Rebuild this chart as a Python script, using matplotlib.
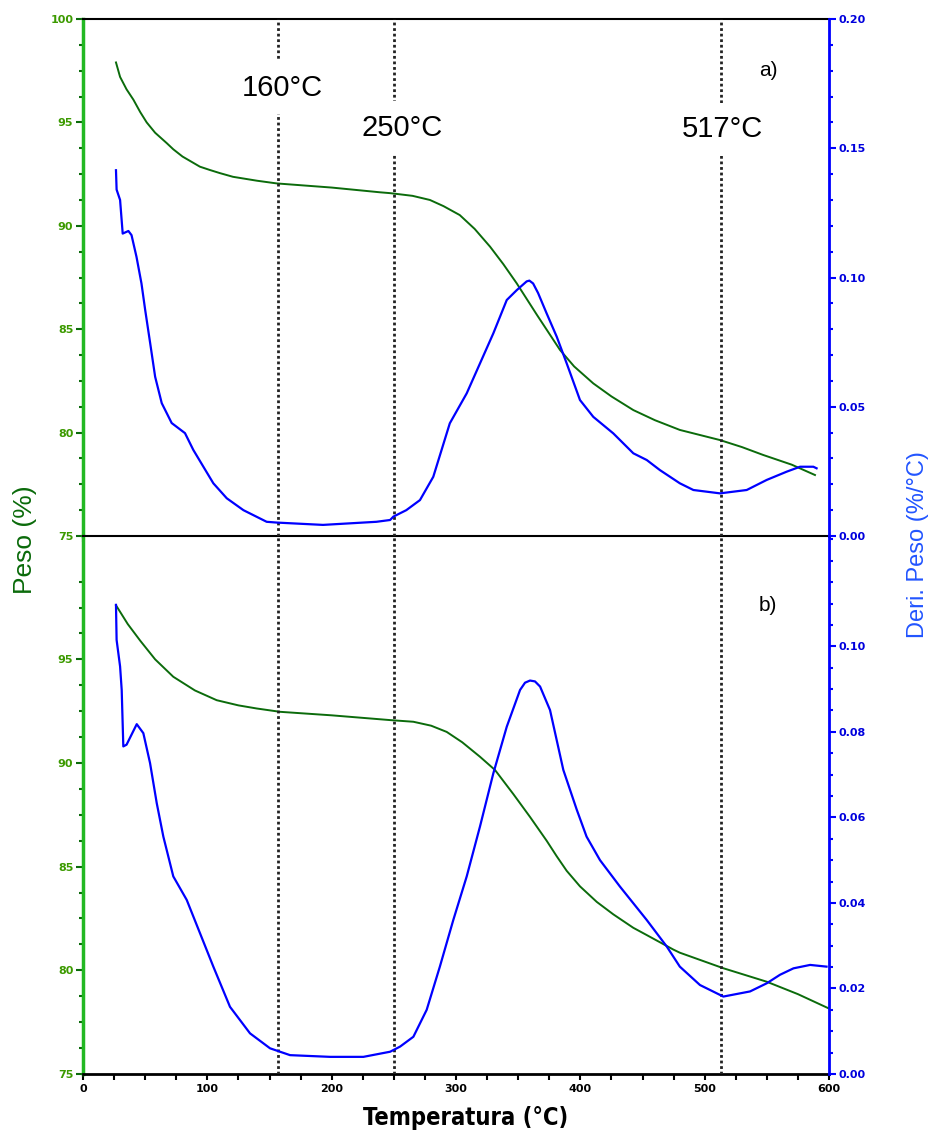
import matplotlib.pyplot as plt
from matplotlib.ticker import MultipleLocator, FixedLocator, FormatStrFormatter

# a) TG curve (Peso %) and DTG curve (Deri. Peso %/°C)
temp_tg_a = [26.5, 29.8, 35, 40.5, 46, 51.2, 58, 67.3, 72.6, 80, 94, 102, 110, 120.6, 140,
             155.8, 200, 239, 247, 265, 279, 290, 303, 315, 327.4, 338, 348.8, 365, 383.6,
             395, 410.4, 425, 442.6, 460, 480, 512.3, 530, 547, 570, 588.7]
peso_a = [97.9, 97.2, 96.6, 96.1, 95.5, 95.0, 94.5, 94.0, 93.7, 93.35, 92.86, 92.7, 92.55,
          92.37, 92.18, 92.05, 91.85, 91.62, 91.58, 91.45, 91.25, 90.95, 90.52, 89.85, 88.99,
          88.15, 87.22, 85.7, 84.0, 83.2, 82.38, 81.75, 81.09, 80.6, 80.13, 79.64, 79.3,
          78.92, 78.45, 77.95]
temp_dtg_a = [26.5, 27, 29.8, 31.9, 36.5, 39, 43, 47, 50, 54, 58, 63.3, 71.3, 82, 88.7, 96.8,
              104.8, 115.6, 129, 147.7, 155.8, 193, 236, 247, 249.6, 260, 271, 281.7, 295,
              308.6, 319.3, 330, 340.8, 348.8, 356.8, 359, 362, 366, 372.9, 381, 389, 399.7,
              410.4, 426.5, 442.6, 453.4, 464, 480, 490.9, 512.3, 533.8, 549.9, 566, 576.7,
              587.4, 590]
deri_a = [0.1415, 0.134, 0.130, 0.117, 0.118, 0.1164, 0.108, 0.0977, 0.0874, 0.0746, 0.0616,
          0.0514, 0.0437, 0.0398, 0.0333, 0.0268, 0.0204, 0.0146, 0.010, 0.0055, 0.0052,
          0.0043, 0.0055, 0.0062, 0.0075, 0.010, 0.0139, 0.0229, 0.0436, 0.0552, 0.0668,
          0.0784, 0.0913, 0.0951, 0.0985, 0.0988, 0.0977, 0.094, 0.0861, 0.0771, 0.0668,
          0.0526, 0.0461, 0.0397, 0.032, 0.0294, 0.0255, 0.0204, 0.0178, 0.0165, 0.0178,
          0.0217, 0.0249, 0.0268, 0.0268, 0.0262]

# b)
temp_tg_b = [26.5, 36, 46, 58, 72.6, 90, 107.5, 125, 139.7, 158.4, 200, 247, 265.7, 280,
             292.5, 305, 319.3, 331.4, 346.1, 359.5, 372.9, 381, 389, 399.7, 413.2, 426.5,
             442.6, 453.4, 474.8, 480, 515, 549.9, 575, 599.5]
peso_b = [97.61, 96.7, 95.9, 95.0, 94.16, 93.5, 93.03, 92.78, 92.63, 92.47, 92.3, 92.07,
          91.99, 91.8, 91.5, 91.0, 90.3, 89.66, 88.5, 87.4, 86.25, 85.5, 84.8, 84.05, 83.3,
          82.7, 82.05, 81.7, 81.0, 80.85, 80.1, 79.45, 78.85, 78.17]
temp_dtg_b = [26.5, 27, 29.8, 31.1, 32.4, 35, 43.2, 48.5, 53.9, 59.3, 64.6, 72.6, 83.4, 94.1,
              104.8, 118.2, 134.3, 150.4, 166.5, 198.7, 225.5, 247, 255, 265.7, 276.4, 287,
              297.8, 308.6, 319.3, 330, 340.8, 351.5, 355.5, 359.5, 363.5, 367.6, 375.6, 386.3,
              397.1, 405, 415.8, 431.9, 453.4, 469.5, 480, 496.2, 515, 536.5, 549.9, 560.6,
              571.4, 584.8, 598]
deri_b = [0.1097, 0.1015, 0.0953, 0.0898, 0.0766, 0.077, 0.0818, 0.0797, 0.0727, 0.0633,
          0.0555, 0.0462, 0.0407, 0.0329, 0.0251, 0.0157, 0.0095, 0.006, 0.0044, 0.004, 0.004,
          0.0052, 0.0064, 0.0087, 0.015, 0.0251, 0.036, 0.0462, 0.0579, 0.0703, 0.0812,
          0.0898, 0.0915, 0.092, 0.0918, 0.0906, 0.0851, 0.0711, 0.0618, 0.0555, 0.05, 0.0438,
          0.036, 0.0298, 0.0251, 0.0208, 0.0181, 0.0193, 0.0212, 0.0232, 0.0247, 0.0255, 0.0251]

vline_temps = [157, 250, 513]
vline_labels = ["160°C", "250°C", "517°C"]

GREEN_LINE = '#0b6b0b'
GREEN_AXIS = '#22b822'
GREEN_TXT = '#3c9a00'
BLUE = '#0000ff'
TICKFONT = dict(family='DejaVu Sans', weight='bold', size=8)

LEFT_MINOR = [76.25, 77.5, 78.75, 81.25, 82.5, 83.75, 86.25, 87.5, 88.75,
              91.25, 92.5, 93.75, 96.25, 97.5, 98.75]

fig = plt.figure(figsize=(9.34, 11.39), dpi=100)
ax_a = fig.add_axes([0.0889, 0.5294, 0.7987, 0.4539])
ax_b = fig.add_axes([0.0889, 0.0571, 0.7987, 0.4723])
axr_a = ax_a.twinx()
axr_b = ax_b.twinx()


def style(ax, axr, ytop, lticks, rtop, rticks, rminor, show_x):
    ax.set_xlim(0, 600)
    ax.set_ylim(75, ytop)
    axr.set_ylim(0, rtop)
    ax.yaxis.set_major_locator(FixedLocator(lticks))
    ax.yaxis.set_minor_locator(FixedLocator(LEFT_MINOR))
    axr.yaxis.set_major_locator(FixedLocator(rticks))
    axr.yaxis.set_minor_locator(MultipleLocator(rminor))
    axr.yaxis.set_major_formatter(FormatStrFormatter('%.2f'))
    ax.xaxis.set_major_locator(MultipleLocator(100))
    ax.xaxis.set_minor_locator(MultipleLocator(25))

    for s in ['top', 'bottom']:
        ax.spines[s].set_color('black')
        axr.spines[s].set_visible(False)
    ax.spines['top'].set_linewidth(1.5)
    ax.spines['bottom'].set_linewidth(2)
    ax.spines['left'].set_color(GREEN_AXIS)
    ax.spines['left'].set_linewidth(2.5)
    ax.spines['right'].set_visible(False)
    axr.spines['left'].set_visible(False)
    axr.spines['right'].set_color(BLUE)
    axr.spines['right'].set_linewidth(2)

    ax.tick_params(axis='y', which='both', direction='out', colors=GREEN_LINE,
                   labelcolor=GREEN_TXT, width=1.5)
    ax.tick_params(axis='y', which='major', length=5, pad=2)
    ax.tick_params(axis='y', which='minor', length=3)
    axr.tick_params(axis='y', which='both', direction='out', colors=BLUE,
                    labelcolor='#0000dd', width=1.5)
    axr.tick_params(axis='y', which='major', length=5, pad=2)
    axr.tick_params(axis='y', which='minor', length=3)
    ax.tick_params(axis='x', which='both', direction='out', length=4, width=1.5,
                   labelbottom=show_x, top=False)
    for lbl in ax.get_yticklabels() + axr.get_yticklabels() + ax.get_xticklabels():
        lbl.set(**TICKFONT)


style(ax_a, axr_a, 100, [75, 80, 85, 90, 95, 100], 0.20,
      [0, 0.05, 0.10, 0.15, 0.20], 0.01, False)
style(ax_b, axr_b, 100.95, [75, 80, 85, 90, 95], 0.1258,
      [0, 0.02, 0.04, 0.06, 0.08, 0.10], 0.005, True)

ax_a.plot(temp_tg_a, peso_a, color=GREEN_LINE, lw=1.4)
axr_a.plot(temp_dtg_a, deri_a, color=BLUE, lw=1.6)
ax_b.plot(temp_tg_b, peso_b, color=GREEN_LINE, lw=1.4)
axr_b.plot(temp_dtg_b, deri_b, color=BLUE, lw=1.6)

for axr in [axr_a, axr_b]:
    for t in vline_temps:
        axr.axvline(t, color='#222222', ls=(0, (1, 1)), lw=2, zorder=1)

# temperature labels in panel a), white box breaks the dotted lines
label_pos = [(160, 0.1735), (257, 0.158), (514, 0.1573)]
for (tx, ty), txt in zip(label_pos, vline_labels):
    axr_a.text(tx, ty, txt, ha='center', va='center', fontsize=21,
               family='Liberation Sans', zorder=5,
               bbox=dict(facecolor='white', edgecolor='none', pad=9))

ax_a.text(551, 97.5, "a)", ha='center', va='center', fontsize=15, family='Liberation Sans')
ax_b.text(551, 97.6, "b)", ha='center', va='center', fontsize=15, family='Liberation Sans')

fig.text(25 / 934, 1 - 540 / 1139, "Peso (%)", rotation=90, ha='center', va='center',
         fontsize=19, color='#0a6a0a', family='Liberation Sans')
fig.text(918 / 934, 1 - 545 / 1139, "Deri. Peso (%/°C)", rotation=90, ha='center',
         va='center', fontsize=17, color='#2255ff', family='Liberation Sans')
fig.text(466 / 934, 1 - 1118 / 1139, "Temperatura (°C)", ha='center', va='center',
         fontsize=17, weight='bold', family='DejaVu Sans', stretch='condensed')

fig.savefig('out.png', dpi=100)
